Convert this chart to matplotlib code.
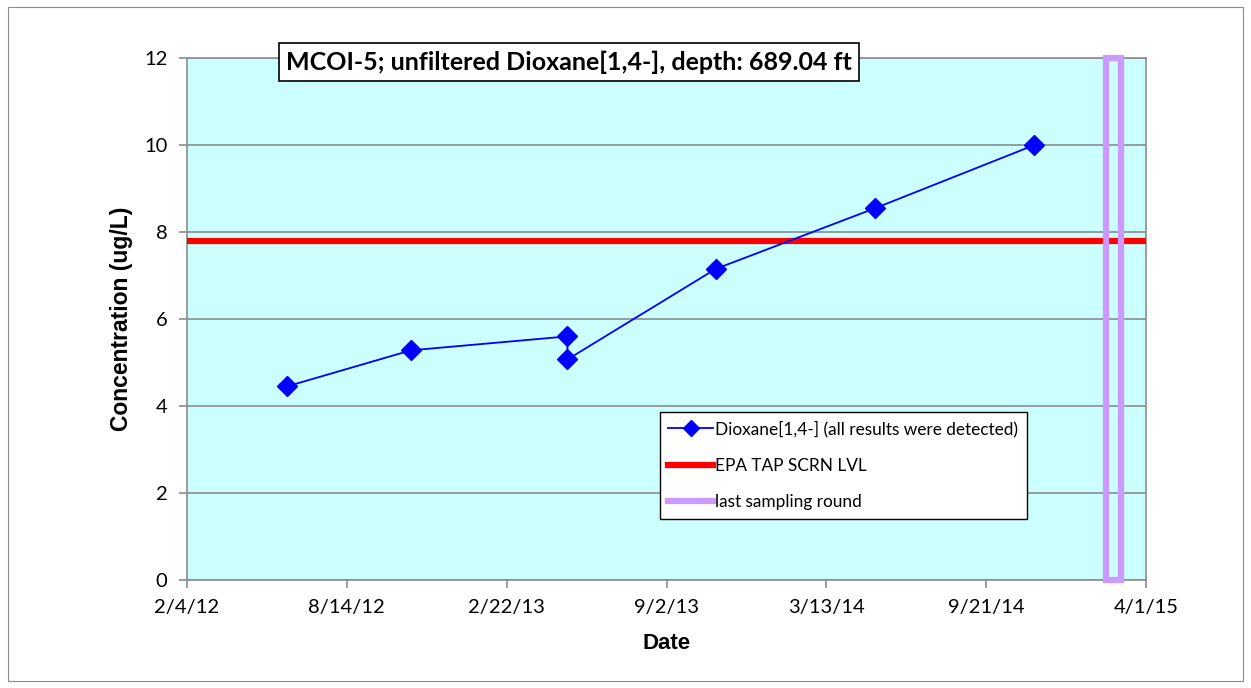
import datetime as dt
import matplotlib
matplotlib.use("Agg")
import matplotlib.pyplot as plt
import matplotlib.dates as mdates
from matplotlib.patches import Rectangle
from matplotlib.lines import Line2D

# data
sample_dates = ["2012-06-03", "2012-10-30", "2013-05-06", "2013-05-06",
                "2013-10-31", "2014-05-11", "2014-11-18"]
dioxane = [4.45, 5.28, 5.60, 5.07, 7.15, 8.55, 10.0]
screen_level = 7.8
last_round = "2015-02-21"
x_start = "2012-02-04"
tick_step_days = 192
n_ticks = 7

dates = [dt.datetime.strptime(d, "%Y-%m-%d") for d in sample_dates]
x0 = dt.datetime.strptime(x_start, "%Y-%m-%d")
ticks = [x0 + dt.timedelta(days=tick_step_days * i) for i in range(n_ticks)]
last_dt = dt.datetime.strptime(last_round, "%Y-%m-%d")

fig = plt.figure(figsize=(12.51, 6.88), dpi=100)
fig.patches.append(Rectangle((0.006, 0.01), 0.988, 0.98, transform=fig.transFigure,
                             fill=False, edgecolor="#8c8c8c", linewidth=0.8))
ax = fig.add_axes([0.1495, 0.157, 0.7666, 0.7587])
ax.set_facecolor("#ccffff")

ax.set_xlim(ticks[0], ticks[-1])
ax.set_ylim(0, 12)
ax.set_yticks(range(0, 13, 2))
ax.set_xticks(ticks)
ax.xaxis.set_major_formatter(plt.FuncFormatter(
    lambda v, p: (lambda d: f"{d.month}/{d.day}/{d.year % 100:02d}")(mdates.num2date(v))))
ax.grid(axis="y", color="#8c8c8c", linewidth=1.2)
ax.set_axisbelow(True)
for s in ax.spines.values():
    s.set_color("#8c8c8c")
    s.set_linewidth(1.2)
ax.tick_params(direction="out", color="#8c8c8c", length=6, width=1.2,
               labelsize=14.5, pad=8)
for lab in ax.get_xticklabels() + ax.get_yticklabels():
    lab.set_family("Lato")

# screening level
ax.axhline(screen_level, color="#ff0000", linewidth=4.5, zorder=3)

# last sampling round bar
half = dt.timedelta(days=9)
ax.add_patch(Rectangle((mdates.date2num(last_dt - half), 0),
                       mdates.date2num(last_dt + half) - mdates.date2num(last_dt - half), 12,
                       fill=False, edgecolor="#cc99ff", linewidth=4.5, zorder=4, clip_on=False))

ax.plot(dates, dioxane, color="#0000ff", linewidth=1.3, marker="D", markersize=10,
        zorder=5)

ax.set_ylabel("Concentration (ug/L)", fontsize=16.5, fontweight="bold",
              family="Liberation Sans", labelpad=8)
ax.set_xlabel("Date", fontsize=16, fontweight="bold", family="Liberation Sans",
              labelpad=12)

fig.text(0.455, 0.91, "MCOI-5; unfiltered Dioxane[1,4-], depth: 689.04 ft",
         fontsize=18, fontweight="bold", family="Lato", ha="center", va="center",
         bbox=dict(boxstyle="square,pad=0.28", facecolor="white", edgecolor="black",
                   linewidth=1.2))

handles = [
    Line2D([], [], color="#0000ff", linewidth=1.3, marker="D", markersize=8),
    Line2D([], [], color="#ff0000", linewidth=4.5),
    Line2D([], [], color="#cc99ff", linewidth=4.5),
]
labels = ["Dioxane[1,4-] (all results were detected)", "EPA TAP SCRN LVL",
          "last sampling round"]
leg = ax.legend(handles, labels, loc="upper left", bbox_to_anchor=(0.493, 0.322),
                prop={"family": "Lato", "size": 12.4}, frameon=True, fancybox=False,
                edgecolor="black", facecolor="white", framealpha=1,
                handlelength=2.6, handletextpad=0.1, labelspacing=1.2,
                borderpad=0.5, borderaxespad=0)
leg.get_frame().set_linewidth(1.0)

fig.savefig("out.png", dpi=100)
